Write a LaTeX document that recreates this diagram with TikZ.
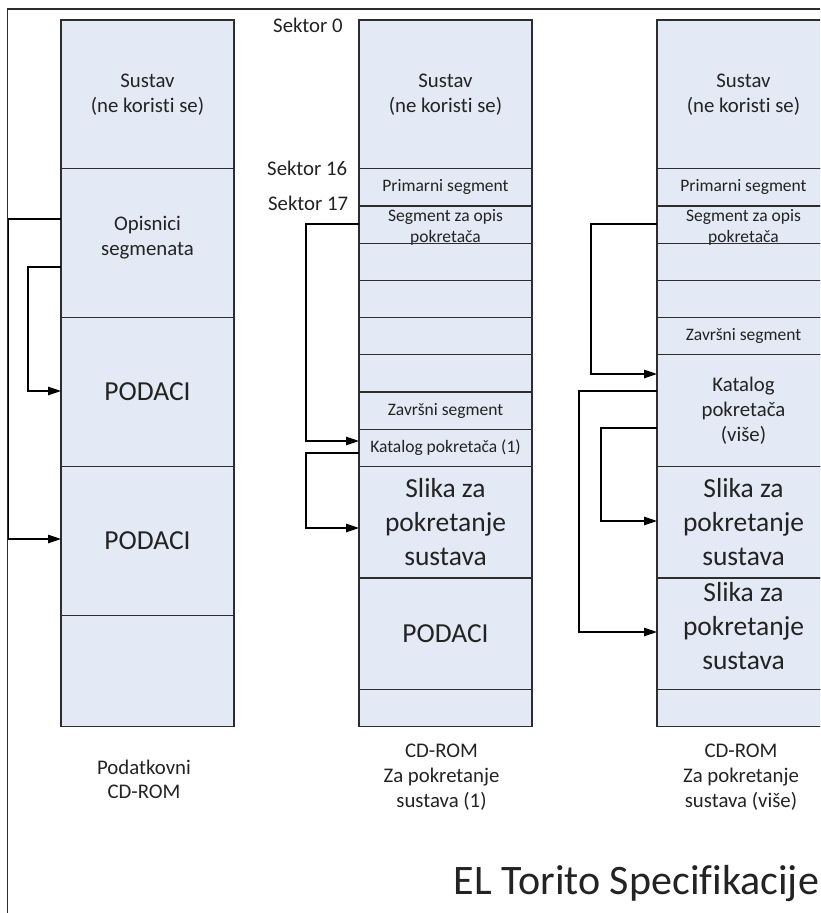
\documentclass[tikz,border=0pt]{standalone}
\usepackage{fontspec}
\setmainfont{Carlito}[Ligatures=NoCommon]
\usetikzlibrary{arrows.meta}
\definecolor{boxfill}{RGB}{227,233,245}
\definecolor{lineclr}{RGB}{45,45,45}
\definecolor{txtclr}{RGB}{35,35,35}
\begin{document}
\begin{tikzpicture}[x=1pt,y=-1pt,
  cell/.style={draw=lineclr, line width=1.2pt, fill=boxfill, rectangle, inner sep=0pt, outer sep=0pt, minimum width=173pt, anchor=north west},
  txtmain/.style={font=\fontsize{20.8}{25}\selectfont, align=center, text=txtclr, inner sep=0pt},
  txtsmall/.style={font=\fontsize{17.5}{20.5}\selectfont, align=center, text=txtclr, inner sep=0pt},
  txtbig/.style={font=\fontsize{27.5}{34}\selectfont, align=center, text=txtclr, inner sep=0pt},
  conn/.style={draw=black, line width=1.2pt, -{Triangle[length=13pt,width=8.5pt]}},
  frameline/.style={draw=lineclr, line width=1.2pt}
]
\useasboundingbox (0,0) rectangle (820,913);
\clip (0,0) rectangle (820,913);
\fill[white] (0,0) rectangle (820,913);

% outer frame
\draw[frameline] (7.5,913) -- (7.5,9) -- (820,9);

% ---------- left column ----------
\node[cell, minimum height=148.8pt] (L1) at (61,20) {};
\node[cell, minimum height=148.8pt] (L2) at (61,168.8) {};
\node[cell, minimum height=148.8pt] (L3) at (61,317.6) {};
\node[cell, minimum height=148.8pt] (L4) at (61,466.4) {};
\node[cell, minimum height=111.6pt] (L5) at (61,615.2) {};
\node[txtmain] (L1t) at (L1.center) {Sustav\\(ne koristi se)};
\node[txtmain] (L2t) at ([yshift=6pt]L2.center) {Opisnici\\segmenata};
\node[txtbig] (L3t) at (L3.center) {PODACI};
\node[txtbig] (L4t) at (L4.center) {PODACI};

% ---------- middle column ----------
\node[cell, minimum height=148.8pt] (M1) at (359,20) {};
\node[cell, minimum height=37.2pt] (M2) at (359,168.8) {};
\node[cell, minimum height=37.2pt] (M3) at (359,206) {};
\node[cell, minimum height=37.2pt] (M4) at (359,243.2) {};
\node[cell, minimum height=37.2pt] (M5) at (359,280.4) {};
\node[cell, minimum height=37.2pt] (M6) at (359,317.6) {};
\node[cell, minimum height=37.2pt] (M7) at (359,354.8) {};
\node[cell, minimum height=37.2pt] (M8) at (359,392) {};
\node[cell, minimum height=37.2pt] (M9) at (359,429.2) {};
\node[cell, minimum height=111.6pt] (M10) at (359,466.4) {};
\node[cell, minimum height=111.6pt] (M11) at (359,578) {};
\node[cell, minimum height=37.2pt] (M12) at (359,689.6) {};
\node[txtmain] (M1t) at (M1.center) {Sustav\\(ne koristi se)};
\node[txtsmall] (M2t) at (M2.center) {Primarni segment};
\node[txtsmall] (M3t) at ([yshift=-3pt]M3.center) {Segment za opis\\pokretača};
\node[txtsmall] (M8t) at (M8.center) {Završni segment};
\node[txtsmall] (M9t) at (M9.center) {Katalog pokretača (1)};
\node[txtbig] (M10t) at (M10.center) {Slika za\\pokretanje\\sustava};
\node[txtbig] (M11t) at (M11.center) {PODACI};

% ---------- right column ----------
\node[cell, minimum height=148.8pt] (R1) at (657,20) {};
\node[cell, minimum height=37.2pt] (R2) at (657,168.8) {};
\node[cell, minimum height=37.2pt] (R3) at (657,206) {};
\node[cell, minimum height=37.2pt] (R4) at (657,243.2) {};
\node[cell, minimum height=37.2pt] (R5) at (657,280.4) {};
\node[cell, minimum height=37.2pt] (R6) at (657,317.6) {};
\node[cell, minimum height=111.6pt] (R7) at (657,354.8) {};
\node[cell, minimum height=111.6pt] (R8) at (657,466.4) {};
\node[cell, minimum height=111.6pt] (R9) at (657,578) {};
\node[cell, minimum height=37.2pt] (R10) at (657,689.6) {};
\node[txtmain] (R1t) at (R1.center) {Sustav\\(ne koristi se)};
\node[txtsmall] (R2t) at (R2.center) {Primarni segment};
\node[txtsmall] (R3t) at ([yshift=-3pt]R3.center) {Segment za opis\\pokretača};
\node[txtsmall] (R6t) at (R6.center) {Završni segment};
\node[txtmain] (R7t) at (R7.center) {Katalog\\pokretača\\(više)};
\node[txtbig] (R8t) at (R8.center) {Slika za\\pokretanje\\sustava};
\node[txtbig] (R9t) at ([yshift=8pt]R9.center) {Slika za\\pokretanje\\sustava};

% ---------- sector labels ----------
\node[txtmain, anchor=base west] (s0) at (273,32) {Sektor 0};
\node[txtmain, anchor=base west] (s16) at (267,175) {Sektor 16};
\node[txtmain, anchor=base west] (s17) at (268,210) {Sektor 17};

% ---------- captions ----------
\node[txtmain, font=\fontsize{20.8}{24}\selectfont] (c1) at (144,779) {Podatkovni\\CD-ROM};
\node[txtmain] (c2) at (441.5,777) {CD-ROM\\Za pokretanje\\sustava (1)};
\node[txtmain] (c3) at (741,777) {CD-ROM\\Za pokretanje\\sustava (više)};
\node[txtmain, font=\fontsize{42}{50}\selectfont] (title) at (636.5,884) {EL Torito Specifikacije};

% ---------- connectors ----------
\coordinate (a1) at (8.5,219);
\coordinate (a2) at (8.5,539);
\draw[conn] (L2.west |- a1) -- (a1) -- (a2) -- (L4.west |- a2);
\coordinate (b1) at (28,267);
\coordinate (b2) at (28,391);
\draw[conn] (L2.west |- b1) -- (b1) -- (b2) -- (L3.west |- b2);

\coordinate (c1a) at (306,224);
\coordinate (c1b) at (306,441);
\draw[conn] (M3.west |- c1a) -- (c1a) -- (c1b) -- (M9.west |- c1b);
\coordinate (d1a) at (306,453);
\coordinate (d1b) at (306,528);
\draw[conn] (M9.west |- d1a) -- (d1a) -- (d1b) -- (M10.west |- d1b);

\coordinate (e1a) at (591,224);
\coordinate (e1b) at (591,374);
\draw[conn] (R3.west |- e1a) -- (e1a) -- (e1b) -- (R7.west |- e1b);
\coordinate (f1a) at (579,391);
\coordinate (f1b) at (579,632);
\draw[conn] (R7.west |- f1a) -- (f1a) -- (f1b) -- (R9.west |- f1b);
\coordinate (g1a) at (601,428);
\coordinate (g1b) at (601,521);
\draw[conn] (R7.west |- g1a) -- (g1a) -- (g1b) -- (R8.west |- g1b);
\end{tikzpicture}
\end{document}
